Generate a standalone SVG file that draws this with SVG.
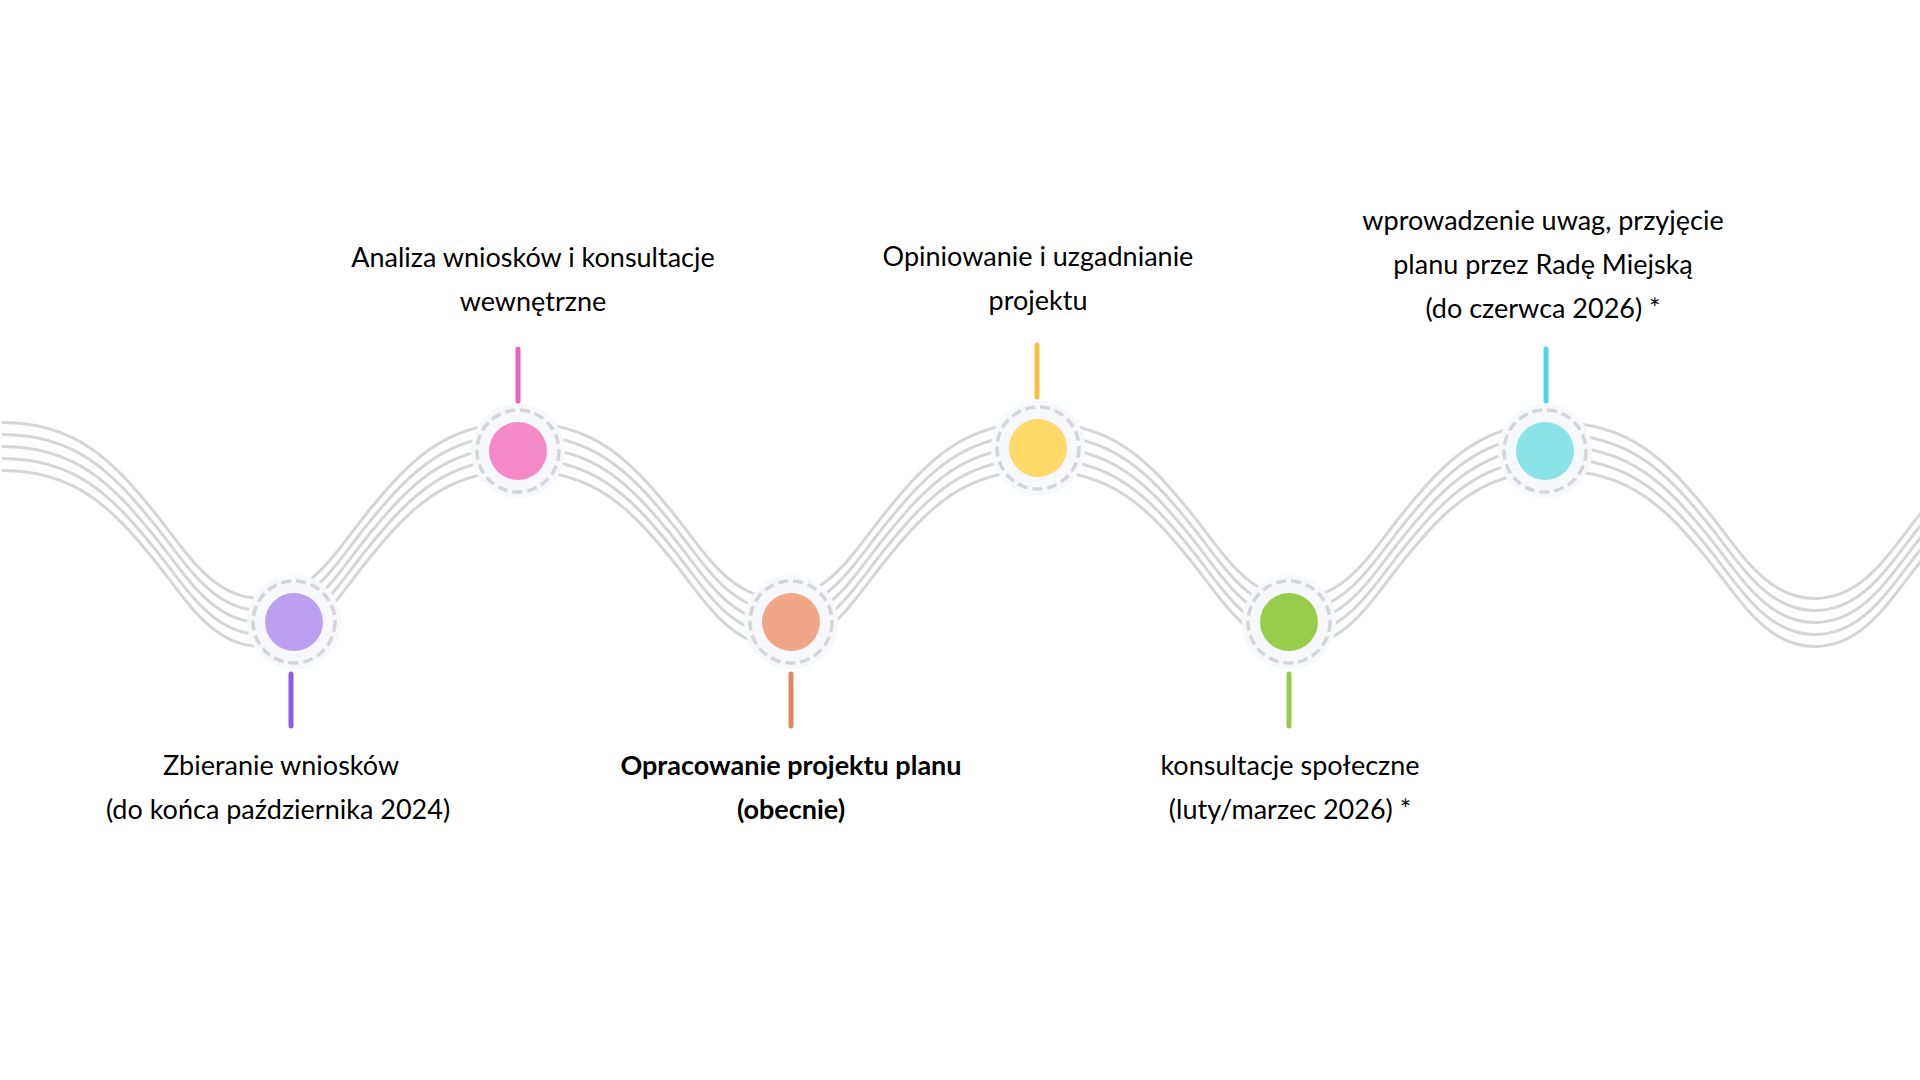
<svg xmlns="http://www.w3.org/2000/svg" xmlns:xlink="http://www.w3.org/1999/xlink" width="1920" height="1080" viewBox="0 0 1920 1080">
<style>
.wave{fill:none;stroke:#d5d5d5;stroke-width:3}
.halo{fill:#f6f8fc}
.ring{fill:none;stroke:#d3d5d9;stroke-width:3.5;stroke-dasharray:10 5}
.stem{stroke-width:5;stroke-linecap:round;fill:none}
.lbl{font-family:Lato,"Open Sans","Liberation Sans",sans-serif;font-size:27px;fill:#000;text-anchor:middle}
.b{font-weight:bold}
</style>
<defs>
<path id="wavepath" d="M2,446.5 c75,0 111,39.2 151,88 c32,39 58,88 108,88 c50,0 76,-49 108,-88 c40,-48.8 76,-88 151,-88 c75,0 111,39.2 151,88 c32,39 58,88 108,88 c50,0 76,-49 108,-88 c40,-48.8 76,-88 151,-88 c75,0 111,39.2 151,88 c32,39 58,88 108,88 c50,0 76,-49 108,-88 c40,-48.8 76,-88 151,-88 c75,0 111,39.2 151,88 c32,39 58,88 108,88 c50,0 76,-49 108,-88 c40,-48.8 76,-88 151,-88"/>
</defs>
<rect width="1920" height="1080" fill="#ffffff"/>
<g id="wave">
<use xlink:href="#wavepath" class="wave" transform="translate(0,-24)"/>
<use xlink:href="#wavepath" class="wave" transform="translate(0,-12)"/>
<use xlink:href="#wavepath" class="wave"/>
<use xlink:href="#wavepath" class="wave" transform="translate(0,12)"/>
<use xlink:href="#wavepath" class="wave" transform="translate(0,24)"/>
</g>
<g id="connectors">
<line class="stem" x1="291" y1="674" x2="291" y2="726" stroke="#8b5fe0"/>
<line class="stem" x1="518" y1="349" x2="518" y2="401" stroke="#e965b7"/>
<line class="stem" x1="791" y1="674" x2="791" y2="726" stroke="#e08860"/>
<line class="stem" x1="1037" y1="345" x2="1037" y2="397" stroke="#f7bf45"/>
<line class="stem" x1="1289" y1="674" x2="1289" y2="726" stroke="#94cc4a"/>
<line class="stem" x1="1546" y1="349" x2="1546" y2="401" stroke="#4fd6e0"/>
</g>
<g id="node-zbieranie">
<circle class="halo" cx="294" cy="622" r="47"/>
<circle class="ring" cx="294" cy="622" r="41"/>
<circle cx="294" cy="622" r="29" fill="#bb9ff0"/>
<text class="lbl" x="281" y="775">Zbieranie wniosków</text>
<text class="lbl" x="278" y="819">(do końca października 2024)</text>
</g>
<g id="node-analiza">
<circle class="halo" cx="518" cy="451" r="47"/>
<circle class="ring" cx="518" cy="451" r="41"/>
<circle cx="518" cy="451" r="29" fill="#f588c9"/>
<text class="lbl" x="533" y="267">Analiza wniosków i konsultacje</text>
<text class="lbl" x="533" y="311">wewnętrzne</text>
</g>
<g id="node-opracowanie">
<circle class="halo" cx="791" cy="622" r="47"/>
<circle class="ring" cx="791" cy="622" r="41"/>
<circle cx="791" cy="622" r="29" fill="#f1a688"/>
<text class="lbl b" x="791" y="775">Opracowanie projektu planu</text>
<text class="lbl b" x="791" y="819">(obecnie)</text>
</g>
<g id="node-opiniowanie">
<circle class="halo" cx="1038" cy="448" r="47"/>
<circle class="ring" cx="1038" cy="448" r="41"/>
<circle cx="1038" cy="448" r="29" fill="#ffd96a"/>
<text class="lbl" x="1038" y="266">Opiniowanie i uzgadnianie</text>
<text class="lbl" x="1038" y="310">projektu</text>
</g>
<g id="node-konsultacje">
<circle class="halo" cx="1289" cy="622" r="47"/>
<circle class="ring" cx="1289" cy="622" r="41"/>
<circle cx="1289" cy="622" r="29" fill="#97cd4b"/>
<text class="lbl" x="1290" y="775">konsultacje społeczne</text>
<text class="lbl" x="1290" y="819">(luty/marzec 2026) *</text>
</g>
<g id="node-przyjecie">
<circle class="halo" cx="1545" cy="451" r="47"/>
<circle class="ring" cx="1545" cy="451" r="41"/>
<circle cx="1545" cy="451" r="29" fill="#8be2e7"/>
<text class="lbl" x="1543" y="230">wprowadzenie uwag, przyjęcie</text>
<text class="lbl" x="1543" y="274">planu przez Radę Miejską</text>
<text class="lbl" x="1543" y="318">(do czerwca 2026) *</text>
</g>
</svg>
